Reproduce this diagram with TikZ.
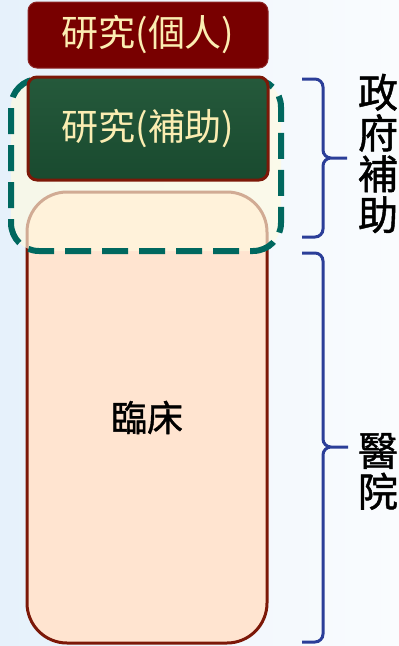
\documentclass[tikz,border=0pt]{standalone}
\usepackage{fontspec}
\newfontfamily\cjk{Noto Sans CJK TC}
\newfontfamily\cjkheavy{Noto Sans CJK TC}[FakeBold=1.2]
\usetikzlibrary{positioning}

\definecolor{bgleft}{HTML}{E6F1FB}
\definecolor{bgright}{HTML}{FAFCFE}
\definecolor{indred}{HTML}{780000}
\definecolor{boxedge}{HTML}{7C1808}
\definecolor{subgreen}{HTML}{25593B}
\definecolor{subgreendark}{HTML}{194A2F}
\definecolor{clinpeach}{HTML}{FFE4D0}
\definecolor{zoneyellow}{HTML}{FFFBE0}
\definecolor{zoneteal}{HTML}{00685F}
\definecolor{braceblue}{HTML}{2B3E98}
\definecolor{lighttext}{HTML}{FBEDB2}

\tikzset{
  box/.style={rounded corners=9pt, minimum width=240pt, inner sep=0pt,
    font=\cjk\fontsize{37}{40}\selectfont},
  indbox/.style={box, fill=indred, draw=indred!85!white, line width=1pt,
    minimum height=66pt, text=lighttext},
  subbox/.style={box, top color=subgreen, bottom color=subgreendark,
    draw=boxedge, line width=3pt, minimum height=103pt, text=lighttext},
  clinbox/.style={box, rounded corners=40pt, fill=clinpeach, draw=boxedge,
    line width=3pt, minimum height=451pt, text=black,
    font=\cjkheavy\fontsize{36}{38}\selectfont},
  govzone/.style={rounded corners=28pt, minimum width=270pt, minimum height=172pt,
    fill=zoneyellow, fill opacity=0.65, draw=zoneteal, draw opacity=1,
    line width=6pt, dash pattern=on 26pt off 11pt, inner sep=0pt},
  bracket/.style={draw=braceblue, line width=3pt, rounded corners=8pt},
  sidelabel/.style={align=center, inner sep=0pt,
    font=\cjkheavy\fontsize{40}{40.8}\selectfont}
}

\begin{document}
\begin{tikzpicture}[x=1pt,y=-1pt]
\useasboundingbox (0,0) rectangle (399,646);
\fill[left color=bgleft, right color=bgright] (0,0) rectangle (399,646);

% the columns
\node[clinbox] (clin) at (147,417.5) {臨床};
\node[govzone] (gov) at (146,165) {};
\node[subbox] (sub) at (148,128.5) {研究(補助)};
\node[indbox] (ind) [above=7pt of sub] {研究(個人)};

% braces on the right
\coordinate (gov_tip) at (347,158);
\coordinate (gov_top) at (302,79);
\coordinate (gov_bot) at (302,237);
\coordinate (hosp_tip) at (348,447);
\coordinate (hosp_top) at (302,253);
\coordinate (hosp_bot) at (302,642);
\path[bracket]
  (gov_tip) -| (323,79) -- (gov_top)
  (gov_tip) -| (323,237) -- (gov_bot)
  (hosp_tip) -| (323,253) -- (hosp_top)
  (hosp_tip) -| (323,642) -- (hosp_bot);

\node[sidelabel] (govlabel) at (378,153.5) {政\\府\\補\\助};
\node[sidelabel] (hosplabel) at (378,471.5) {醫\\院};
\end{tikzpicture}
\end{document}
